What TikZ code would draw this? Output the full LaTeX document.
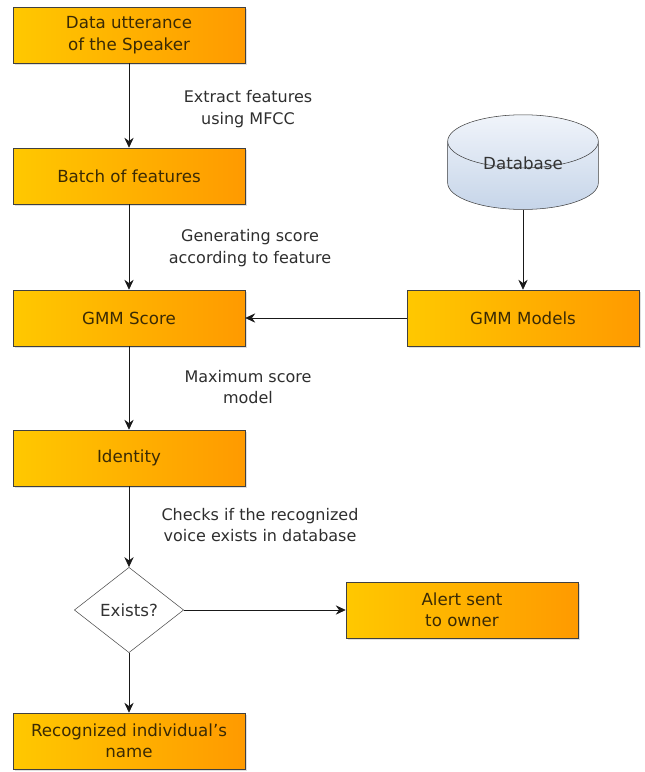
\documentclass[tikz,border=0pt]{standalone}
\usepackage{fontspec}
\setmainfont{DejaVu Sans}
\usepackage{xcolor}
\usepackage{tikz}
\usetikzlibrary{shapes.geometric, positioning, arrows.meta, shadows}

\definecolor{boxL}{HTML}{FFC800}
\definecolor{boxR}{HTML}{FF9A00}
\definecolor{boxText}{HTML}{3A2A05}
\definecolor{dbTop}{HTML}{F0F4FA}
\definecolor{dbBot}{HTML}{C6D5E9}
\definecolor{lblText}{HTML}{2E2E2E}

\begin{document}
\begin{tikzpicture}[
  x=0.75pt, y=-0.75pt,
  every node/.style={font=\fontsize{12.5}{16}\selectfont},
  stepbox/.style={
    rectangle, draw=black!75, thin,
    left color=boxL, right color=boxR,
    drop shadow={opacity=0.25, shadow xshift=1.5pt, shadow yshift=-1.5pt},
    minimum width=174pt, minimum height=42pt,
    text=boxText, align=center, inner sep=2pt,
  },
  decide/.style={
    diamond, draw=black!70, thin, fill=white, aspect=1.3,
    minimum width=82pt, minimum height=64pt, inner sep=0pt,
    text=black!80,
  },
  store/.style={
    cylinder, shape border rotate=90, aspect=0.6,
    draw=black!75, thin, top color=dbTop, bottom color=dbBot,
    minimum width=113pt, minimum height=71pt,
    text=black!80,
  },
  lbl/.style={
    align=center, text=lblText,
    font=\fontsize{12}{16}\selectfont,
  },
  flow/.style={-{Stealth[length=7.5pt, width=7pt, inset=2.5pt]}, line width=0.6pt, black!90},
]

\useasboundingbox (0,0) rectangle (644,772);

% ---- Process boxes ----
\node[stepbox] (utter) at (129, 35)  {Data utterance\\of the Speaker};
\node[stepbox] (batch) at (129, 176) {Batch of features};
\node[stepbox] (score) at (129, 318) {GMM Score};
\node[stepbox] (ident) at (129, 458) {Identity};
\node[stepbox] (name)  at (129, 741) {Recognized individual's\\name};
\node[stepbox] (alert) at (462, 610) {Alert sent\\to owner};
\node[stepbox] (models) at (523, 318) {GMM Models};

% ---- Database and decision ----
% text lifted so it sits mid-way in the drum
\node[store]  (db)     at (523, 180) {\raisebox{8pt}[0pt][0pt]{Database}};
\node[decide] (exists) at (129, 610) {Exists?};

% ---- Main flow ----
\draw[flow] (utter.south) -- (batch.north);
\draw[flow] (batch.south) -- (score.north);
\draw[flow] (score.south) -- (ident.north);
\draw[flow] (ident.south) -- (exists.north);
\draw[flow] (exists.south) -- (name.north);
\draw[flow] (exists.east) -- (alert.west);

% ---- Model side ----
\draw[flow] (db.bottom) -- (models.north);
\draw[flow] (models.west) -- (score.east);

% ---- Edge labels ----
\node[lbl] (lblA) at (248, 109) {Extract features\\using MFCC};
\node[lbl] (lblB) at (250, 248) {Generating score\\according to feature};
\node[lbl] (lblC) at (248, 387) {Maximum score\\model};
\node[lbl] (lblD) at (260, 525) {Checks if the recognized\\voice exists in database};

\end{tikzpicture}
\end{document}
